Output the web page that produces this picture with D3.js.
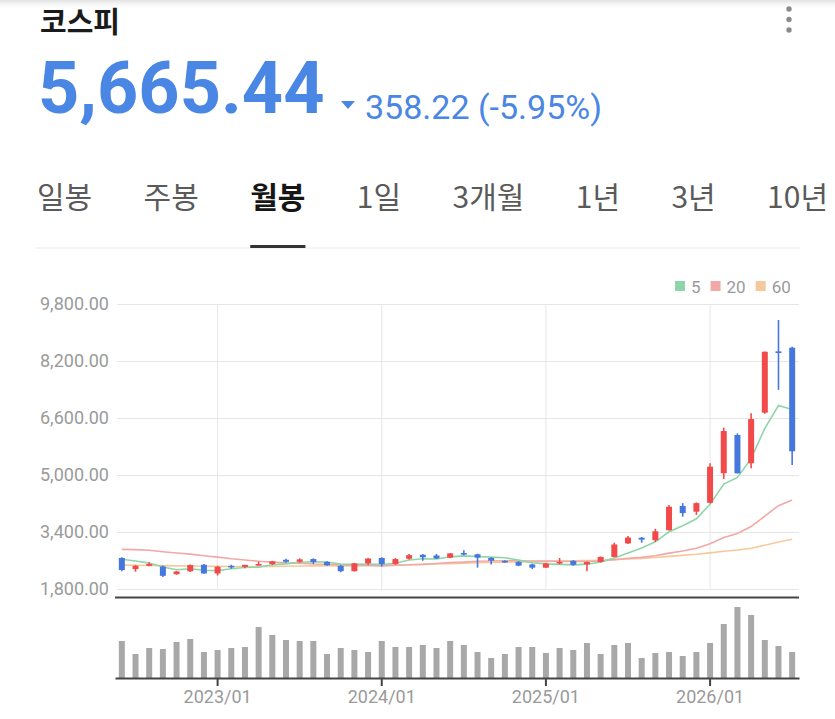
<!DOCTYPE html>
<html lang="ko">
<head>
<meta charset="utf-8">
<script src="https://cdn.jsdelivr.net/npm/d3@7"></script>
<style>
  html, body { margin: 0; padding: 0; background: #fff; }
  svg { display: block; }
</style>
</head>
<body>
<svg id="chart" width="835" height="719"></svg>
<script>
// ---- data ----
const title = "코스피";
const lastPrice = "5,665.44";
const change = "358.22 (-5.95%)";
const tabs = ["일봉", "주봉", "월봉", "1일", "3개월", "1년", "3년", "10년"];
const selectedTab = "월봉";

const months = [
  "2022/06","2022/07","2022/08","2022/09","2022/10","2022/11","2022/12",
  "2023/01","2023/02","2023/03","2023/04","2023/05","2023/06","2023/07","2023/08","2023/09","2023/10","2023/11","2023/12",
  "2024/01","2024/02","2024/03","2024/04","2024/05","2024/06","2024/07","2024/08","2024/09","2024/10","2024/11","2024/12",
  "2025/01","2025/02","2025/03","2025/04","2025/05","2025/06","2025/07","2025/08","2025/09","2025/10","2025/11","2025/12",
  "2026/01","2026/02","2026/03","2026/04","2026/05","2026/06","2026/07"
];

const opens = [2670,2360,2450,2430,2215,2297,2480,2236,2450,2420,2476,2500,2620,2564,2640,2560,2450,2300,2520,
  2670,2500,2650,2760,2740,2680,2810,2775,2670,2590,2560,2490,2400,2530,2590,2490,2560,2700,3080,3240,3170,3450,4130,3970,
  4220,5050,6123,5330,6750,8470,8573];
const highs = [2690,2470,2550,2460,2300,2490,2500,2450,2480,2480,2572,2590,2650,2660,2660,2580,2470,2530,2670,
  2690,2670,2780,2780,2785,2810,2890,2790,2690,2610,2580,2510,2540,2670,2610,2570,2710,3100,3290,3260,3490,4160,4210,4230,
  5330,6330,6170,6730,8470,9350,8600];
const lows = [2300,2286,2440,2140,2200,2280,2230,2180,2370,2380,2460,2470,2540,2540,2500,2450,2270,2290,2470,
  2430,2480,2630,2590,2640,2660,2750,2400,2490,2540,2440,2360,2390,2490,2450,2300,2540,2690,3060,3100,3120,3440,3830,3880,
  4200,4890,5040,5190,6720,7390,5281];
const closes = [2332,2452,2500,2170,2293,2472,2236,2425,2412,2476,2501,2577,2564,2632,2556,2465,2300,2520,2655,
  2500,2640,2750,2690,2660,2800,2770,2680,2593,2556,2455,2400,2517,2560,2480,2556,2700,3050,3245,3186,3420,4110,3930,4210,
  5233,6235,5048,6570,8460,8440,5665.44];

const volumes = [370,240,300,290,360,390,260,280,300,310,510,430,380,370,370,240,300,280,260,370,
  310,310,330,300,370,330,260,200,240,310,310,250,300,280,350,240,330,350,200,250,
  260,220,260,350,540,710,630,380,320,260];

const ma5 = [2634,2584,2527,2419,2341,2369,2326,2316,2368,2405,2410,2479,2506,2550,2566,2559,2499,2493,2498,2486,
  2521,2615,2647,2643,2703,2729,2714,2694,2678,2610,2536,2504,2492,2477,2497,2557,2668,2810,2951,3125,
  3407,3578,3772,4181,4743,4931,5460,6309,6951,6837];
const ma20 = [2913,2906,2886,2845,2809,2779,2734,2695,2650,2614,2579,2555,2534,2524,2503,2493,2472,2461,2459,2449,
  2465,2480,2491,2515,2540,2555,2577,2585,2592,2591,2586,2583,2581,2574,2574,2586,2625,2661,2687,2734,
  2807,2866,2942,3072,3244,3358,3552,3846,4140,4300];
const ma60 = [2470,2465,2460,2455,2448,2445,2440,2435,2432,2430,2432,2436,2440,2446,2450,2452,2450,2453,2458,2462,
  2470,2480,2490,2500,2512,2525,2535,2545,2555,2562,2568,2575,2582,2590,2598,2608,2622,2640,2660,2685,
  2715,2745,2775,2815,2860,2895,2945,3030,3120,3196];

const yTicks = [1800, 3400, 5000, 6600, 8200, 9800];
const xTicks = ["2023/01", "2024/01", "2025/01", "2026/01"];
const maLegend = ["5", "20", "60"];

// ---- styles ----
const UP = "#f24a4a", DOWN = "#4677dd", BLUE = "#4a86e3";
const maColors = { "5": "#8ed6a9", "20": "#f3a8a8", "60": "#f6c99d" };
const NUM_FONT = "Roboto, 'Noto Sans', sans-serif";
const KR_FONT = "'Noto Sans CJK KR', 'Noto Sans', sans-serif";

const svg = d3.select("#chart");

/*
| Header
*/
const defs = svg.append("defs");
const shade = defs.append("linearGradient")
  .attr("id", "topShade").attr("x1", 0).attr("y1", 0).attr("x2", 0).attr("y2", 1);
shade.append("stop").attr("offset", "0%").attr("stop-color", "#e2e2e2");
shade.append("stop").attr("offset", "100%").attr("stop-color", "#fff").attr("stop-opacity", 0);
svg.append("rect").attr("width", 835).attr("height", 10).attr("fill", "url(#topShade)");

svg.append("text")
  .attr("x", 40).attr("y", 33)
  .attr("font-family", KR_FONT).attr("font-weight", 700).attr("font-size", 29)
  .attr("fill", "#1b1b1b")
  .text(title);

svg.append("g").selectAll("circle")
  .data([9, 19.5, 30])
  .join("circle")
  .attr("cx", 789).attr("cy", d => d).attr("r", 2.7)
  .attr("fill", "#8a8a8a");

svg.append("text")
  .attr("x", 38).attr("y", 113)
  .attr("font-family", NUM_FONT).attr("font-weight", 700).attr("font-size", 72)
  .attr("fill", BLUE)
  .text(lastPrice);

svg.append("path")
  .attr("d", "M341,101 L355,101 L348,109 Z")
  .attr("fill", BLUE);

svg.append("text")
  .attr("x", 365).attr("y", 119)
  .attr("font-family", NUM_FONT).attr("font-size", 34)
  .attr("fill", BLUE)
  .text(change);

/*
| Tabs
*/
const tabG = svg.append("g");
const tabText = tabG.selectAll("text")
  .data(tabs)
  .join("text")
  .attr("y", 208)
  .attr("font-family", KR_FONT)
  .attr("font-size", 30)
  .attr("font-weight", d => d === selectedTab ? 700 : 400)
  .attr("fill", d => d === selectedTab ? "#161616" : "#5a5a5a")
  .text(d => d);

const widths = [];
tabText.each(function () { widths.push(this.getComputedTextLength()); });
const tabLeft = 37, tabRight = 828;
const gap = (tabRight - tabLeft - d3.sum(widths)) / (tabs.length - 1);
const tabX = [];
let cursor = tabLeft;
widths.forEach(w => { tabX.push(cursor); cursor += w + gap; });
tabText.attr("x", (d, i) => tabX[i]);

svg.append("line")
  .attr("x1", 35).attr("x2", 800).attr("y1", 248).attr("y2", 248)
  .attr("stroke", "#ececec").attr("stroke-width", 1);

const sel = tabs.indexOf(selectedTab);
svg.append("rect")
  .attr("x", tabX[sel]).attr("y", 245)
  .attr("width", widths[sel]).attr("height", 3)
  .attr("fill", "#333");

/*
| Scales
*/
const left = 115, right = 799;
const x = d3.scaleBand().domain(months).range([left, right]);
const cx = m => x(m) + x.bandwidth() / 2;
const y = d3.scaleLinear().domain([1800, 9800]).range([589, 304]);
const yv = d3.scaleLinear().domain([0, 800]).range([678, 598]);

/*
| Grid + y axis
*/
const yAxis = svg.append("g")
  .attr("transform", `translate(${left + 2},0)`)
  .call(d3.axisLeft(y)
    .tickValues(yTicks)
    .tickFormat(d3.format(",.2f"))
    .tickSize(-(right - left - 2))
    .tickPadding(8));
yAxis.select(".domain").remove();
yAxis.selectAll(".tick line").attr("stroke", "#e6e6e6");
yAxis.selectAll(".tick text")
  .attr("fill", "#9a9a9a")
  .attr("font-family", NUM_FONT)
  .attr("font-size", 18);

svg.append("g").selectAll("line")
  .data(xTicks)
  .join("line")
  .attr("x1", d => cx(d)).attr("x2", d => cx(d))
  .attr("y1", y(9800)).attr("y2", y(1800))
  .attr("stroke", "#e6e6e6");

/*
| Legend
*/
const legend = svg.append("g").attr("font-family", NUM_FONT).attr("font-size", 17);
let lx = 675;
maLegend.forEach(k => {
  legend.append("rect")
    .attr("x", lx).attr("y", 281).attr("width", 10).attr("height", 10)
    .attr("fill", maColors[k]);
  const t = legend.append("text")
    .attr("x", lx + 16).attr("y", 293)
    .attr("fill", "#9a9a9a")
    .text(k);
  lx += 16 + t.node().getComputedTextLength() + 10;
});

/*
| Moving averages
*/
const maLine = d3.line()
  .x((d, i) => cx(months[i]))
  .y(d => y(d));

[["60", ma60], ["20", ma20], ["5", ma5]].forEach(([k, values]) => {
  svg.append("path")
    .datum(values)
    .attr("d", maLine)
    .attr("fill", "none")
    .attr("stroke", maColors[k])
    .attr("stroke-width", 1.6);
});

/*
| Candles
*/
const candles = months.map((m, i) => ({
  m, o: opens[i], h: highs[i], l: lows[i], c: closes[i]
}));
const bodyW = 6;

const cg = svg.append("g");
cg.selectAll("line")
  .data(candles)
  .join("line")
  .attr("x1", d => cx(d.m)).attr("x2", d => cx(d.m))
  .attr("y1", d => y(d.h)).attr("y2", d => y(d.l))
  .attr("stroke", d => d.c >= d.o ? UP : DOWN)
  .attr("stroke-width", 1.6);

cg.selectAll("rect")
  .data(candles)
  .join("rect")
  .attr("x", d => cx(d.m) - bodyW / 2)
  .attr("width", bodyW)
  .attr("y", d => y(Math.max(d.o, d.c)))
  .attr("height", d => Math.max(1.6, Math.abs(y(d.o) - y(d.c))))
  .attr("fill", d => d.c >= d.o ? UP : DOWN);

/*
| Volume panel
*/
svg.append("line")
  .attr("x1", left).attr("x2", right).attr("y1", 597.5).attr("y2", 597.5)
  .attr("stroke", "#444").attr("stroke-width", 2);

svg.append("g").selectAll("rect")
  .data(volumes)
  .join("rect")
  .attr("x", (d, i) => cx(months[i]) - 3)
  .attr("width", 6)
  .attr("y", d => yv(d))
  .attr("height", d => yv(0) - yv(d))
  .attr("fill", "#a8a8a8");

const xAxis = svg.append("g")
  .attr("transform", "translate(0,678)")
  .call(d3.axisBottom(x)
    .tickValues(xTicks)
    .tickSize(8)
    .tickSizeOuter(0)
    .tickPadding(4));
xAxis.select(".domain").attr("stroke", "#444").attr("stroke-width", 2);
xAxis.selectAll(".tick line").attr("stroke", "#444").attr("stroke-width", 2);
xAxis.selectAll(".tick text")
  .attr("fill", "#9a9a9a")
  .attr("font-family", NUM_FONT)
  .attr("font-size", 18);
</script>
</body>
</html>
